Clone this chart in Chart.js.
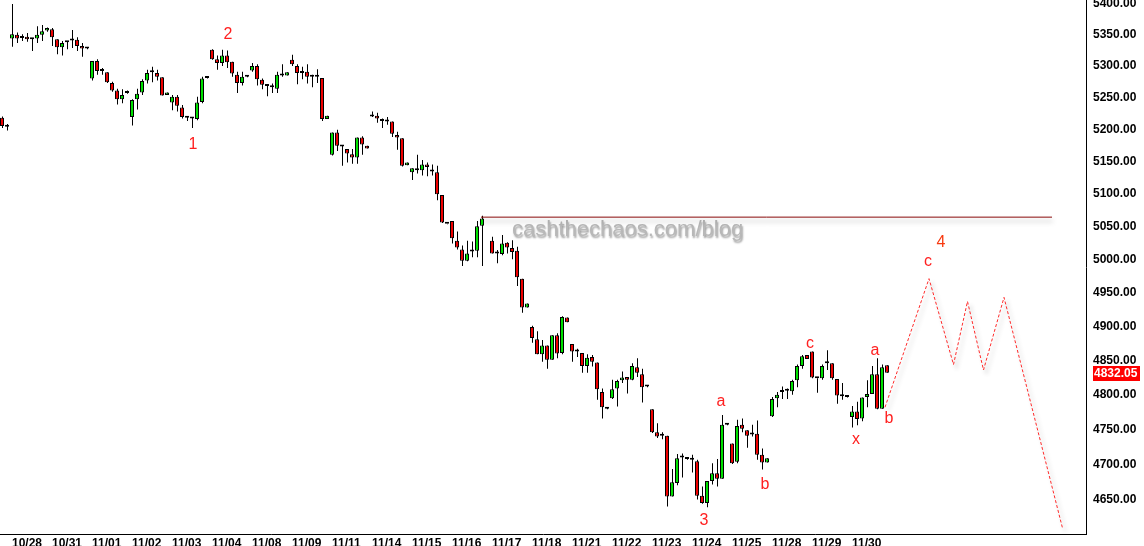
<!DOCTYPE html>
<html>
<head>
<meta charset="utf-8">
<script src="https://cdn.jsdelivr.net/npm/chart.js@4.4.1/dist/chart.umd.min.js"></script>
<style>
    html, body { margin: 0; padding: 0; background: #fff; }
    #wrap { width: 1144px; height: 546px; position: relative; }
</style>
</head>
<body>
<div id="wrap"><canvas id="wave_chart"></canvas></div>
<script>
// hourly bars, 8 per session; the first 2 are the tail of 10/27
const days = ['10/28', '10/31', '11/01', '11/02', '11/03', '11/04', '11/08', '11/09', '11/11', '11/14', '11/15',
    '11/16', '11/17', '11/18', '11/21', '11/22', '11/23', '11/24', '11/25', '11/28', '11/29', '11/30'];
const leadBars = 2;
const barsPerDay = 8;

const opens = [
    5218, 5204, 5344, 5350, 5345, 5347, 5343, 5344, 5350, 5357,
    5359, 5343, 5330, 5338, 5341, 5342, 5332, 5328, 5280, 5308,
    5292, 5290, 5273, 5261, 5247, 5257, 5219, 5247, 5258, 5277,
    5290, 5289, 5282, 5254, 5242, 5251, 5234, 5218, 5217, 5216,
    5243, 5281, 5326, 5311, 5305, 5317, 5307, 5286, 5273, 5283,
    5293, 5300, 5278, 5268, 5266, 5264, 5285, 5285, 5310, 5300,
    5289, 5291, 5283, 5283, 5281, 5216, 5160, 5195, 5173, 5169,
    5161, 5156, 5187, 5174, 5220, 5221, 5213, 5212, 5212, 5191,
    5186, 5144, 5133, 5136, 5136, 5145, 5137, 5133, 5098, 5054,
    5058, 5028, 5015, 4998, 5012, 5013, 5051, null, 5028, 5009,
    5008, 5025, 5017, 5013, 4971, 4928, 4899, 4881, 4859, 4872,
    4851, 4887, 4861, 4913, 4874, 4863, 4861, 4842, 4855, 4847,
    4804, 4780, 4795, 4809, 4821, 4826, 4822, 4840, 4830, 4812,
    4779, 4746, 4741, 4741, 4655, 4674, 4710, 4708, 4707, 4705,
    4656, 4646, 4677, 4688, 4680, 4757, 4730, 4704, 4757, 4749,
    4743, 4744, 4714, 4703, 4769, 4795, 4804, 4806, 4805, 4821,
    4842, 4858, 4863, 4824, 4824, 4846, 4846, 4823, 4798, 4797,
    4768, 4776, 4766, 4797, 4801, 4830, 4780, 4843
];
const highs = [
    5220, 5208, 5400, 5354, 5351, 5353, 5344, 5364, 5366, 5362,
    5361, 5343, 5340, 5340, 5358, 5346, 5337, 5329, 5308, 5311,
    5297, 5290, 5275, 5264, 5263, 5261, 5247, 5264, 5279, 5294,
    5299, 5294, 5282, 5258, 5254, 5254, 5238, 5220, 5219, 5251,
    5283, 5282, 5327, 5317, 5326, 5325, 5307, 5291, 5291, 5284,
    5305, 5303, 5280, 5268, 5272, 5291, 5303, 5290, 5318, 5303,
    5299, 5303, 5286, 5295, 5281, 5221, 5195, 5199, 5175, 5169,
    5169, 5187, 5189, 5174, 5228, 5226, 5217, 5219, 5212, 5196,
    5186, 5148, 5139, 5160, 5152, 5148, 5145, 5143, 5098, 5054,
    5058, 5042, 5021, 5028, 5027, 5058, 5066, null, 5034, 5014,
    5037, 5026, 5029, 5019, 4971, 4934, 4901, 4893, 4880, 4872,
    4887, 4890, 4915, 4913, 4874, 4867, 4861, 4859, 4858, 4847,
    4809, 4781, 4822, 4822, 4834, 4826, 4846, 4853, 4838, 4813,
    4779, 4759, 4746, 4741, 4694, 4715, 4716, 4709, 4714, 4707,
    4669, 4677, 4702, 4708, 4771, 4758, 4730, 4764, 4766, 4749,
    4757, 4763, 4723, 4709, 4797, 4804, 4812, 4809, 4822, 4844,
    4858, 4858, 4863, 4824, 4844, 4865, 4846, 4823, 4817, 4798,
    4784, 4790, 4796, 4821, 4842, 4853, 4844, 4843
];
const lows = [
    5202, 5198, 5331, 5337, 5340, 5339, 5324, 5337, 5340, 5355,
    5332, 5319, 5317, 5327, 5329, 5324, 5315, 5327, 5277, 5286,
    5286, 5273, 5259, 5239, 5241, 5256, 5206, 5231, 5254, 5272,
    5274, 5277, 5253, 5254, 5230, 5228, 5217, 5213, 5202, 5214,
    5241, 5280, 5310, 5294, 5300, 5297, 5283, 5257, 5269, 5282,
    5291, 5269, 5263, 5252, 5257, 5257, 5283, 5285, 5300, 5271,
    5279, 5272, 5266, 5273, 5213, 5216, 5159, 5166, 5143, 5148,
    5146, 5146, 5160, 5170, 5219, 5210, 5202, 5207, 5188, 5168,
    5142, 5144, 5121, 5131, 5128, 5127, 5128, 5090, 5055, 5053,
    5024, 5015, 4990, 4997, 5003, 5003, 4990, null, 5009, 4994,
    5006, 5009, 5000, 4960, 4920, 4928, 4876, 4859, 4848, 4838,
    4851, 4853, 4859, 4906, 4848, 4855, 4832, 4832, 4841, 4793,
    4766, 4779, 4794, 4783, 4817, 4802, 4821, 4826, 4789, 4811,
    4745, 4738, 4736, 4641, 4655, 4671, 4682, 4707, 4689, 4651,
    4645, 4640, 4672, 4669, 4680, 4756, 4701, 4702, 4746, 4724,
    4740, 4707, 4693, 4703, 4768, 4782, 4794, 4794, 4800, 4811,
    4838, 4852, 4824, 4803, 4822, 4836, 4822, 4787, 4793, 4796,
    4753, 4756, 4762, 4782, 4801, 4779, 4780, 4832
];
const closes = [
    5205, 5204, 5351, 5344, 5345, 5343, 5343, 5350, 5356, 5361,
    5346, 5330, 5337, 5338, 5341, 5332, 5328, 5328, 5308, 5292,
    5292, 5274, 5261, 5247, 5254, 5260, 5246, 5256, 5276, 5289,
    5290, 5283, 5253, 5258, 5251, 5237, 5219, 5218, 5217, 5242,
    5280, 5281, 5311, 5305, 5317, 5306, 5288, 5273, 5283, 5283,
    5300, 5279, 5270, 5268, 5266, 5286, 5285, 5290, 5303, 5289,
    5289, 5283, 5283, 5283, 5216, 5221, 5195, 5174, 5173, 5162,
    5156, 5187, 5176, 5170, 5220, 5217, 5213, 5212, 5193, 5187,
    5143, 5148, 5139, 5136, 5145, 5141, 5134, 5099, 5056, 5054,
    5032, 5018, 4998, 5009, 5012, 5050, 5062, null, 5009, 5009,
    5024, 5018, 5011, 4973, 4928, 4934, 4883, 4859, 4872, 4851,
    4887, 4860, 4914, 4906, 4863, 4863, 4842, 4854, 4848, 4808,
    4782, 4780, 4808, 4820, 4825, 4822, 4842, 4832, 4811, 4812,
    4746, 4740, 4741, 4655, 4675, 4709, 4710, 4708, 4707, 4656,
    4646, 4677, 4688, 4680, 4757, 4757, 4702, 4755, 4751, 4741,
    4743, 4714, 4703, 4709, 4794, 4800, 4804, 4806, 4820, 4842,
    4856, 4852, 4825, 4824, 4842, 4846, 4824, 4799, 4798, 4797,
    4776, 4765, 4796, 4801, 4830, 4780, 4840, 4832.05
];

// breakdown level and the projected wave 4 / 5 path (x in bar units)
const levelX = [95.8, 210];
const levelY = [5064, 5064];
const projX = [176.6, 185.4, 190.3, 193.1, 196.3, 200.4, 212.1];
const projY = [4782, 4971, 4844, 4937, 4836, 4943, 4611];

// wave labels
const waveText = ['1', '2', '3', 'a', 'b', 'c', 'x', 'a', 'b', 'c', '4'];
const waveX = [38.2, 45.2, 140.4, 143.8, 152.6, 161.6, 170.8, 174.6, 177.4, 185.2, 187.8];
const waveY = [5176, 5351, 4622, 4790, 4672, 4875, 4736, 4865, 4766, 4997, 5025];

const priceTicks = [4650, 4700, 4750, 4800, 4850, 4900, 4950, 5000, 5050, 5100, 5150, 5200, 5250, 5300, 5350, 5400];

const UP = '#00e000';
const DOWN = '#ee0000';
const FONT = 'Liberation Sans, Arial, sans-serif';

var bodies = [];
var wicks = [];
for (var i = 0; i < opens.length; i++) {
    if (opens[i] === null) continue;
    bodies.push({x: i, y: [opens[i], closes[i]]});
    wicks.push({x: i, y: [lows[i], highs[i]]});
}
var dayStarts = days.map(function(d, k) { return leadBars + k * barsPerDay; });

var shadowPlugin = {
    id: 'shadow',
    beforeDatasetDraw: function(chart, args) {
        var sh = chart.data.datasets[args.index].shadow;
        if (!sh) return;
        var ctx = chart.ctx;
        ctx.save();
        ctx.shadowColor = sh.color;
        ctx.shadowBlur = sh.blur;
        ctx.shadowOffsetX = sh.dx;
        ctx.shadowOffsetY = sh.dy;
    },
    afterDatasetDraw: function(chart, args) {
        if (chart.data.datasets[args.index].shadow) chart.ctx.restore();
    }
};

var notesPlugin = {
    id: 'notes',
    beforeDatasetsDraw: function(chart) {
        var ctx = chart.ctx;
        var xs = chart.scales.x, ys = chart.scales.y;
        ctx.save();
        ctx.font = '22px ' + FONT;
        ctx.textBaseline = 'middle';
        ctx.textAlign = 'left';
        ctx.shadowColor = 'rgba(0,0,0,0.4)';
        ctx.shadowBlur = 2;
        ctx.shadowOffsetX = 1;
        ctx.shadowOffsetY = 2;
        ctx.fillStyle = '#b8b8b8';
        ctx.fillText('cashthechaos.com/blog', xs.getPixelForValue(levelX[0]) + 31, ys.getPixelForValue(levelY[0]) + 13);
        ctx.restore();
    },
    afterDatasetsDraw: function(chart) {
        var ctx = chart.ctx;
        var xs = chart.scales.x, ys = chart.scales.y;
        ctx.save();
        ctx.font = '16px ' + FONT;
        ctx.textAlign = 'center';
        ctx.textBaseline = 'middle';
        for (var k = 0; k < waveText.length; k++) {
            ctx.fillStyle = waveText[k] === '4' ? '#f83a10' : '#ff2020';
            ctx.fillText(waveText[k], xs.getPixelForValue(waveX[k]), ys.getPixelForValue(waveY[k]));
        }
        ctx.restore();
    },
    afterDraw: function(chart) {
        var ctx = chart.ctx;
        var ys = chart.scales.y;
        var last = closes[closes.length - 1];
        var y = Math.round(ys.getPixelForValue(last));
        var left = chart.chartArea.right + 7;
        ctx.save();
        ctx.fillStyle = '#ff0000';
        ctx.fillRect(left, y - 7, 47, 15);
        ctx.fillStyle = '#ffffff';
        ctx.font = 'bold 12px ' + FONT;
        ctx.textAlign = 'left';
        ctx.textBaseline = 'middle';
        ctx.fillText(last.toFixed(2), left + 1, y + 1);
        ctx.restore();
    }
};

var ctx = document.getElementById('wave_chart');
var waveChart = new Chart(ctx, {
    type: 'bar',
    data: {
        datasets: [{
            label: 'wick',
            data: wicks,
            xAxisID: 'xw',
            backgroundColor: '#000',
            borderWidth: 0,
            barThickness: 1,
            inflateAmount: 0,
            grouped: false,
            order: 3
        }, {
            label: 'body',
            data: bodies,
            backgroundColor: function(c) {
                var r = c.raw;
                if (!r) return '#000';
                return r.y[1] > r.y[0] ? UP : (r.y[1] < r.y[0] ? DOWN : '#000');
            },
            borderColor: '#000',
            borderWidth: 1,
            borderSkipped: false,
            barThickness: 4,
            minBarLength: 2,
            inflateAmount: 0,
            grouped: false,
            order: 2
        }, {
            type: 'line',
            label: 'level',
            data: levelX.map(function(v, k) { return {x: v, y: levelY[k]}; }),
            borderColor: '#8a0a0a',
            borderWidth: 1,
            pointRadius: 0,
            shadow: {color: 'rgba(0,0,0,0.35)', blur: 5, dx: 1, dy: 4},
            order: 1
        }, {
            type: 'line',
            label: 'projection',
            data: projX.map(function(v, k) { return {x: v, y: projY[k]}; }),
            borderColor: '#ff2a2a',
            borderWidth: 1,
            borderDash: [3, 2],
            pointRadius: 0,
            tension: 0,
            shadow: {color: 'rgba(0,0,0,0.3)', blur: 4, dx: 3, dy: 4},
            order: 0
        }]
    },
    options: {
        responsive: true,
        maintainAspectRatio: false,
        animation: false,
        layout: { padding: 0 },
        plugins: {
            legend: { display: false },
            tooltip: { enabled: false }
        },
        scales: {
            x: {
                type: 'linear',
                min: -0.4,
                max: 216.8,
                offset: false,
                bounds: 'data',
                grid: { display: false, drawTicks: false },
                border: { display: true, color: '#000', width: 1 },
                afterBuildTicks: function(s) { s.ticks = dayStarts.map(function(v) { return {value: v}; }); },
                afterFit: function(s) {
                    s.height = 12;
                    s.paddingLeft = 0;
                    s.paddingRight = 0;
                },
                ticks: {
                    autoSkip: false,
                    maxRotation: 0,
                    minRotation: 0,
                    align: 'start',
                    padding: 2,
                    color: '#000',
                    font: { family: FONT, size: 12, weight: 'bold' },
                    callback: function(v, k) { return days[k]; }
                }
            },
            xw: {
                type: 'linear',
                display: false,
                min: -0.5,
                max: 216.7,
                offset: false,
                bounds: 'data'
            },
            y: {
                type: 'logarithmic',
                position: 'right',
                min: 4602.8,
                max: 5406.5,
                bounds: 'data',
                grid: { display: false, drawTicks: false },
                border: { display: true, color: '#000', width: 1 },
                afterBuildTicks: function(s) { s.ticks = priceTicks.map(function(v) { return {value: v}; }); },
                afterFit: function(s) {
                    s.width = 58;
                    s.paddingTop = 0;
                    s.paddingBottom = 0;
                },
                ticks: {
                    autoSkip: false,
                    padding: 7,
                    color: '#000',
                    font: { family: FONT, size: 12, weight: 'bold' },
                    callback: function(v) { return Number(v).toFixed(2); }
                }
            }
        }
    },
    plugins: [shadowPlugin, notesPlugin]
});
</script>
</body>
</html>
